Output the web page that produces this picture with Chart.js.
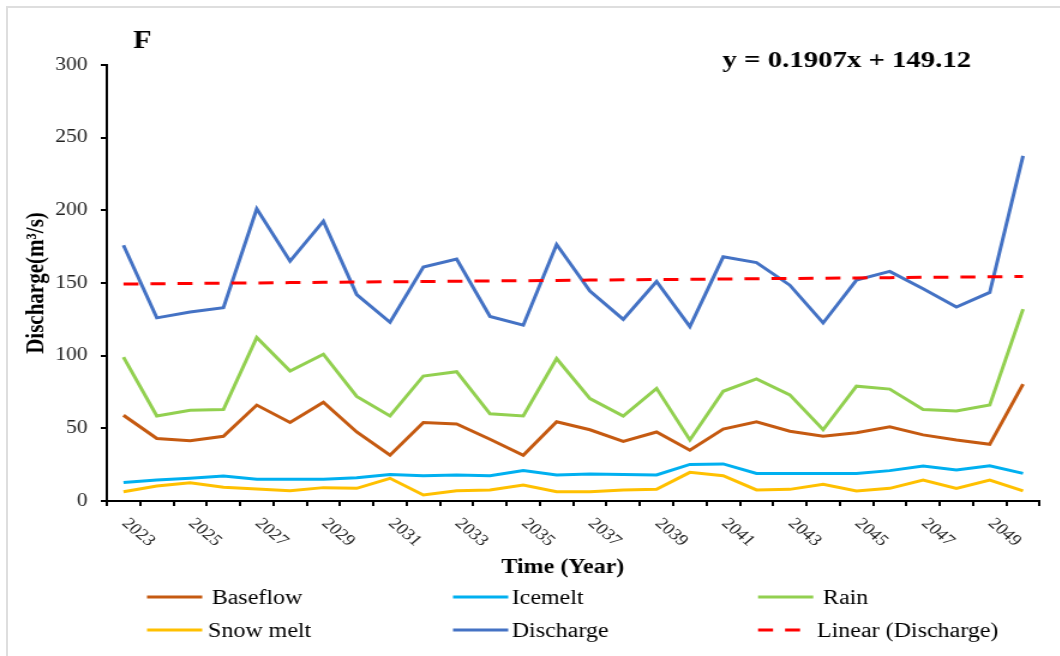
<!DOCTYPE html>
<html>
<head>
<meta charset="utf-8">
<script src="https://cdn.jsdelivr.net/npm/chart.js@4.4.1/dist/chart.umd.min.js"></script>
<style>
  html, body { margin: 0; padding: 0; background: #fff; overflow: hidden; }
  #frame { position: absolute; left: 6px; top: 6px; width: 1080px; height: 680px;
           border-left: 2px solid #dedede; border-top: 2px solid #dedede; }
  /* the figure is drawn narrow and widened 1.2x */
  #wrap { position: absolute; left: 0; top: 0; width: 883px; height: 656px;
          transform: scaleX(1.2); transform-origin: 0 0; }
</style>
</head>
<body>
<div id="frame"></div>
<div id="wrap"><canvas id="chart"></canvas></div>
<script>
const years = ["2023", "2024", "2025", "2026", "2027", "2028", "2029", "2030", "2031", "2032",
  "2033", "2034", "2035", "2036", "2037", "2038", "2039", "2040", "2041", "2042",
  "2043", "2044", "2045", "2046", "2047", "2048", "2049", "2050"];
const xTickLabels = ["2023", "2025", "2027", "2029", "2031", "2033", "2035",
  "2037", "2039", "2041", "2043", "2045", "2047", "2049"];
const yTicks = [0, 50, 100, 150, 200, 250, 300];

const baseflow = [59, 43, 41.5, 44.5, 66, 54, 68, 47.5, 31.5, 54, 53, 42.5, 31.5, 54.5,
  49, 41, 47.5, 35, 49.5, 54.5, 48, 44.5, 47, 51, 45.5, 42, 39, 80.5];
const icemelt = [12.8, 14.4, 15.6, 17.2, 14.9, 14.9, 14.9, 16, 18.3, 17.4, 17.9, 17.4, 20.9, 17.9,
  18.6, 18.3, 17.9, 25.2, 25.5, 19, 19, 19, 19, 20.9, 24, 21.3, 24.3, 19];
const rain = [99, 58.5, 62.5, 63, 112.5, 89.5, 101, 72, 58.5, 86, 89, 60, 58.5, 98,
  70.5, 58.5, 77.5, 42, 75.5, 84, 73, 49, 79, 77, 63, 62, 66, 132];
const snowmelt = [6.4, 10.3, 12.6, 9.4, 8.3, 7.1, 9.2, 8.7, 15.6, 4.1, 7.1, 7.6, 11, 6.4,
  6.4, 7.6, 8, 19.7, 17.4, 7.6, 8, 11.5, 6.9, 8.7, 14.4, 8.7, 14.4, 6.9];
const discharge = [176, 126, 130, 133, 201, 165, 192.5, 142, 123, 161, 166.5, 127, 121, 176.5,
  144.5, 125, 151, 120, 168, 164, 148.5, 122.5, 152, 158, 146, 133.5, 143.5, 237.5];

// linear trend of discharge, x = 1..28
const trendSlope = 0.1907;
const trendIntercept = 149.12;
const trend = years.map((_, i) => trendIntercept + trendSlope * (i + 1));

const serif = "'Liberation Serif', 'Times New Roman', serif";

// x labels, axis title, panel letter, equation and legend
const overlay = {
  id: "overlay",
  afterDraw(chart) {
    const { ctx, scales: { x } } = chart;
    ctx.save();

    ctx.fillStyle = "#222";
    ctx.font = "16px " + serif;
    ctx.textAlign = "left";
    ctx.textBaseline = "middle";
    xTickLabels.forEach(lbl => {
      const px = x.getPixelForValue(years.indexOf(lbl));
      ctx.save();
      ctx.translate(px + 1, 521);
      ctx.rotate(Math.PI / 4);
      ctx.fillText(lbl, 0, 0);
      ctx.restore();
    });

    ctx.fillStyle = "#000";
    ctx.textBaseline = "middle";
    ctx.textAlign = "center";
    ctx.font = "bold 20px " + serif;
    ctx.fillText("Time (Year)", 469, 568);

    ctx.textAlign = "left";
    ctx.textBaseline = "alphabetic";
    ctx.font = "bold 25px " + serif;
    ctx.fillText("F", 111, 48);
    ctx.font = "bold 24px " + serif;
    ctx.fillText("y = " + trendSlope + "x + " + trendIntercept, 602, 66.5);

    // legend, 3 columns x 2 rows
    const lineX = [122.5, 377.5, 631.7];
    const textX = [176.4, 426.4, 685.8, 173.3, 426.4, 680.8];
    const rowY = [597, 630];
    ctx.font = "20px " + serif;
    chart.data.datasets.forEach((ds, i) => {
      const col = i % 3, row = Math.floor(i / 3);
      const y = rowY[row];
      const len = ds.borderDash ? 35 : 46;
      ctx.beginPath();
      ctx.strokeStyle = ds.borderColor;
      ctx.lineWidth = 3;
      ctx.setLineDash(ds.borderDash || []);
      ctx.moveTo(lineX[col], y);
      ctx.lineTo(lineX[col] + len, y);
      ctx.stroke();
      ctx.setLineDash([]);
      ctx.fillStyle = "#000";
      ctx.fillText(ds.label, textX[i], y + 6.5);
    });
    ctx.restore();
  }
};

const line = (label, data, color, extra) => Object.assign({
  label: label,
  data: data,
  borderColor: color,
  backgroundColor: color,
  borderWidth: 3,
  pointRadius: 0,
  tension: 0,
  fill: false
}, extra || {});

new Chart(document.getElementById("chart"), {
  type: "line",
  data: {
    labels: years,
    datasets: [
      line("Baseflow", baseflow, "#C55A11"),
      line("Icemelt", icemelt, "#00B0F0"),
      line("Rain", rain, "#92D050"),
      line("Snow melt", snowmelt, "#FFC000"),
      line("Discharge", discharge, "#4472C4"),
      line("Linear (Discharge)", trend, "#FF0000", { borderDash: [12.5, 10], order: -1 })
    ]
  },
  options: {
    responsive: true,
    maintainAspectRatio: false,
    animation: false,
    layout: { padding: { top: 65, right: 16.6, bottom: 0, left: 0 } },
    plugins: {
      legend: { display: false },
      tooltip: { enabled: false }
    },
    scales: {
      x: {
        offset: true,
        ticks: { display: false, autoSkip: false },
        grid: { offset: true, drawOnChartArea: false, drawTicks: true, tickLength: 5, color: "#000", lineWidth: 2 },
        border: { color: "#000", width: 2 },
        afterFit(scale) { scale.height = 155; }
      },
      y: {
        min: 0,
        max: 300,
        afterBuildTicks(scale) { scale.ticks = yTicks.map(v => ({ value: v })); },
        ticks: { padding: 11, color: "#222", font: { family: serif, size: 18 } },
        grid: { drawOnChartArea: false, drawTicks: true, tickLength: 5, color: "#000", lineWidth: 2 },
        border: { color: "#000", width: 2 },
        title: {
          display: true,
          text: "Discharge(m³/s)",
          color: "#000",
          font: { family: serif, size: 21, weight: "bold" },
          padding: { top: 18 }
        },
        afterFit(scale) { scale.width = 89; }
      }
    }
  },
  plugins: [overlay]
});
</script>
</body>
</html>
